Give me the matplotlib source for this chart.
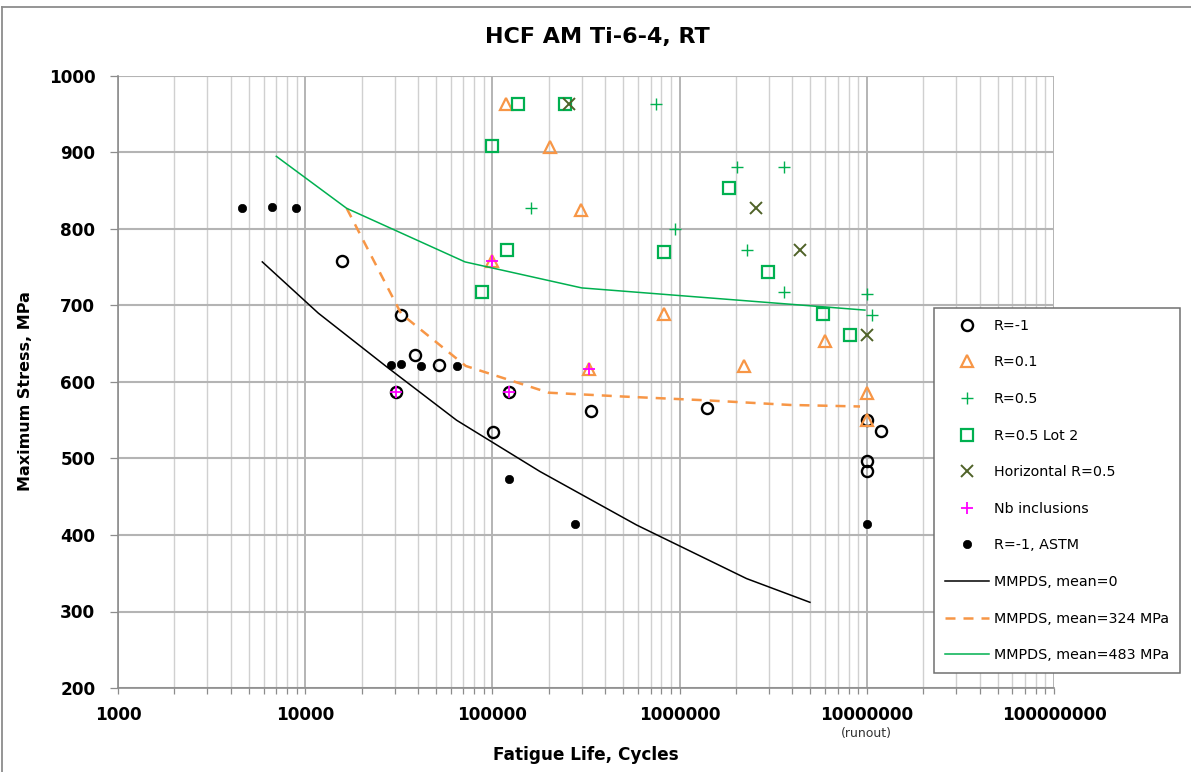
import matplotlib
matplotlib.use("Agg")
import matplotlib.pyplot as plt
from matplotlib.lines import Line2D
from matplotlib.ticker import FixedLocator, FuncFormatter, NullFormatter
import matplotlib.transforms as mtransforms

# ---------------- data ----------------
r_m1_N = [15700, 32600, 38700, 51800, 30600, 122700, 101000, 335000, 1400000,
          10000000, 11900000, 10000000, 10000000]
r_m1_S = [758, 688, 635, 622, 587, 587, 535, 562, 566, 550, 536, 497, 484]

r01_N = [118000, 203000, 296000, 99800, 826000, 328000, 2220000, 5980000,
         10000000, 10000000]
r01_S = [963, 907, 825, 758, 689, 617, 621, 654, 586, 550]

r05_N = [748000, 2030000, 3620000, 160000, 945000, 2280000, 3620000,
         10000000, 10700000]
r05_S = [964, 881, 881, 827, 800, 772, 717, 715, 688]

lot2_N = [99000, 87600, 137000, 245000, 120000, 828000, 1830000, 2950000,
          5860000, 8130000]
lot2_S = [908, 717, 963, 964, 772, 770, 854, 744, 689, 661]

horiz_N = [258000, 2560000, 4390000, 10000000]
horiz_S = [963, 828, 772, 661]

nb_N = [30600, 122700, 99800, 328000]
nb_S = [587, 587, 758, 617]

astm_N = [4590, 6650, 8970, 28700, 32500, 41400, 64700, 122700, 276000, 10000000]
astm_S = [827, 829, 828, 622, 623, 621, 621, 473, 415, 415]

mm0_N = [5900, 11750, 27200, 64400, 179500, 590000, 2280000, 4970000]
mm0_S = [757, 690, 620, 550, 483, 413, 343, 312]

mm324_N = [16660, 32600, 72000, 200000, 499000, 1400000, 3890000, 9200000]
mm324_S = [827, 689, 621, 586, 581, 576, 570, 568]

mm483_N = [7010, 16660, 71400, 300000, 9770000]
mm483_S = [895, 827, 757, 723, 694]

x_ticks = [1000, 10000, 100000, 1000000, 10000000, 100000000]
y_ticks = [200, 300, 400, 500, 600, 700, 800, 900, 1000]

title = "HCF AM Ti-6-4, RT"
xlabel = "Fatigue Life, Cycles"
ylabel = "Maximum Stress, MPa"

# ---------------- styling ----------------
ORANGE = "#F79646"
GREEN = "#00B050"
OLIVE = "#4F6228"
MAGENTA = "#FF00FF"

W, H = 1191, 772
fig = plt.figure(figsize=(W / 100, H / 100), dpi=100)
fig.patch.set_facecolor("white")

L, R, T, B = 118, 1054, 76, 688
ax = fig.add_axes([L / W, 1 - B / H, (R - L) / W, (B - T) / H])

ax.set_xscale("log")
ax.set_xlim(1000, 1e8)
ax.set_ylim(200, 1000)

# series
ax.plot(r_m1_N, r_m1_S, ls="none", marker="o", ms=8, mfc="none", mec="black",
        mew=1.7, label="R=-1")
ax.plot(r01_N, r01_S, ls="none", marker="^", ms=8.6, mfc="none", mec=ORANGE,
        mew=1.6, label="R=0.1")
ax.plot(r05_N, r05_S, ls="none", marker="+", ms=8.6, mec=GREEN,
        mew=1.0, label="R=0.5")
ax.plot(lot2_N, lot2_S, ls="none", marker="s", ms=8, mfc="none", mec=GREEN,
        mew=1.6, label="R=0.5 Lot 2")
ax.plot(horiz_N, horiz_S, ls="none", marker="x", ms=8.6, mec=OLIVE,
        mew=1.4, label="Horizontal R=0.5")
ax.plot(nb_N, nb_S, ls="none", marker="+", ms=8, mec=MAGENTA,
        mew=1.3, label="Nb inclusions")
ax.plot(astm_N, astm_S, ls="none", marker="o", ms=6, mfc="black", mec="black",
        mew=0.5, label="R=-1, ASTM")
ax.plot(mm0_N, mm0_S, color="black", lw=1.1, label="MMPDS, mean=0")
ax.plot(mm324_N, mm324_S, color=ORANGE, lw=1.8, dashes=[4, 3.2],
        label="MMPDS, mean=324 MPa")
ax.plot(mm483_N, mm483_S, color=GREEN, lw=1.1, label="MMPDS, mean=483 MPa")

# grid
ax.set_axisbelow(True)
ax.xaxis.set_major_locator(FixedLocator(x_ticks))
minors = [m * 10 ** e for e in range(3, 8) for m in range(2, 10)]
ax.xaxis.set_minor_locator(FixedLocator(minors))
ax.xaxis.set_major_formatter(FuncFormatter(lambda v, p: f"{int(round(v))}"))
ax.xaxis.set_minor_formatter(NullFormatter())
ax.yaxis.set_major_locator(FixedLocator(y_ticks))
ax.grid(which="major", axis="x", color="#A0A0A0", lw=1.1)
ax.grid(which="minor", axis="x", color="#D0D0D0", lw=1.0)
ax.grid(which="major", axis="y", color="#B4B4B4", lw=1.5)

for s in ("top", "right"):
    ax.spines[s].set_visible(False)
for s in ("left", "bottom"):
    ax.spines[s].set_color("#8C8C8C")
    ax.spines[s].set_linewidth(1.2)

ax.tick_params(axis="x", which="both", direction="out", length=4.3,
               color="#8C8C8C", width=0.9, pad=9)
ax.tick_params(axis="y", which="major", direction="out", length=5.8,
               color="#8C8C8C", width=0.9, pad=10.5)
for lab in ax.get_xticklabels() + ax.get_yticklabels():
    lab.set_fontweight("bold")
    lab.set_fontsize(12.2)

# runout annotation
trans = mtransforms.blended_transform_factory(ax.transData, ax.transAxes)
ax.text(1e7, -0.0745, "(runout)", transform=trans, ha="center", va="center",
        fontsize=9, color="#333333")

# titles
fig.text(597 / W, 1 - 37 / H, title, ha="center", va="center",
         fontsize=16, fontweight="bold")
fig.text(586 / W, 1 - 755 / H, xlabel, ha="center", va="center",
         fontsize=12.2, fontweight="bold")
fig.text(26 / W, 1 - 391 / H, ylabel, ha="center", va="center",
         fontsize=11.5, fontweight="bold", rotation=90)

# legend
leg = ax.legend(loc="upper left", bbox_to_anchor=(934 / W, 1 - 308 / H),
                bbox_transform=fig.transFigure, fontsize=10.3, numpoints=1,
                handlelength=3.1, handletextpad=0.35, labelspacing=1.58,
                borderpad=0.75, borderaxespad=0, fancybox=False,
                framealpha=1, edgecolor="#707070")
leg.get_frame().set_linewidth(1.1)
leg.set_zorder(10)

# chart-area border (top and left edges visible in the reference)
fig.add_artist(Line2D([2 / W, 2 / W], [0, 1 - 7 / H], transform=fig.transFigure,
                      color="#8C8C8C", lw=1.3))
fig.add_artist(Line2D([2 / W, 1], [1 - 7 / H, 1 - 7 / H], transform=fig.transFigure,
                      color="#8C8C8C", lw=1.3))

fig.savefig("out.png", dpi=100)
